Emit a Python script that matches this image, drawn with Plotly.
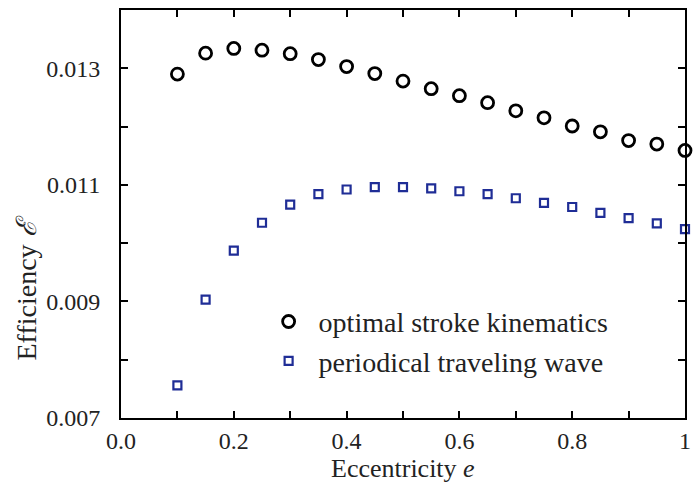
import plotly.graph_objects as go

ecc = [0.10, 0.15, 0.20, 0.25, 0.30, 0.35, 0.40, 0.45, 0.50, 0.55,
       0.60, 0.65, 0.70, 0.75, 0.80, 0.85, 0.90, 0.95, 1.00]
eff_optimal = [0.01290, 0.01326, 0.01334, 0.01331, 0.01325, 0.01315, 0.01303, 0.01291,
               0.01278, 0.01265, 0.01253, 0.01241, 0.01227, 0.01215, 0.01201, 0.01191,
               0.01176, 0.01170, 0.01159]
eff_wave = [0.00756, 0.00903, 0.00987, 0.01035, 0.01066, 0.01084, 0.01092, 0.01096,
            0.01096, 0.01094, 0.01089, 0.01084, 0.01077, 0.01069, 0.01062, 0.01052,
            0.01043, 0.01034, 0.01024]

x_tickvals = [0.0, 0.1, 0.2, 0.3, 0.4, 0.5, 0.6, 0.7, 0.8, 0.9, 1.0]
x_ticktext = ["0.0", "", "0.2", "", "0.4", "", "0.6", "", "0.8", "", "1"]
y_tickvals = [0.007, 0.008, 0.009, 0.010, 0.011, 0.012, 0.013]
y_ticktext = ["0.007", "", "0.009", "", "0.011", "", "0.013"]

FONT = "Liberation Serif"

fig = go.Figure()
fig.add_trace(go.Scatter(
    x=ecc, y=eff_optimal, mode="markers", name="optimal stroke kinematics",
    marker=dict(symbol="circle-open", size=12, color="black", line=dict(width=2.8, color="black")),
    cliponaxis=False,
))
fig.add_trace(go.Scatter(
    x=ecc, y=eff_wave, mode="markers", name="periodical traveling wave",
    marker=dict(symbol="square-open", size=8, color="#1f2d96", line=dict(width=2.2, color="#1f2d96")),
    cliponaxis=False,
))

axis_common = dict(
    showline=True, linecolor="black", linewidth=2, mirror="ticks",
    ticks="inside", ticklen=7, tickwidth=1.5, tickcolor="black",
    showgrid=False, zeroline=False,
    tickfont=dict(family=FONT, size=24, color="#222"),
)

fig.update_layout(
    width=699, height=482,
    margin=dict(l=121, r=8, t=9, b=64),
    paper_bgcolor="white", plot_bgcolor="white",
    showlegend=True,
    legend=dict(
        x=0.244, y=0.297, xanchor="left", yanchor="top",
        bgcolor="rgba(0,0,0,0)", borderwidth=0,
        font=dict(family=FONT, size=28, color="#222"),
        itemwidth=50, tracegroupgap=0,
    ),
    xaxis=dict(range=[0, 1], tickvals=x_tickvals, ticktext=x_ticktext, **axis_common),
    yaxis=dict(range=[0.007, 0.014], tickvals=y_tickvals, ticktext=y_ticktext,
               ticklabelstandoff=14, **axis_common),
    annotations=[
        dict(text="Eccentricity <i>e</i>", x=0.5, y=-0.124, xref="paper", yref="paper",
             xanchor="center", yanchor="middle", showarrow=False,
             font=dict(family=FONT, size=26, color="#222")),
        dict(text="Efficiency <i>ℰ</i>", x=-0.168, y=0.318, xref="paper", yref="paper",
             xanchor="center", yanchor="middle", textangle=-90, showarrow=False,
             font=dict(family=FONT, size=28, color="#222")),
    ],
)

fig.write_html("out.html")
